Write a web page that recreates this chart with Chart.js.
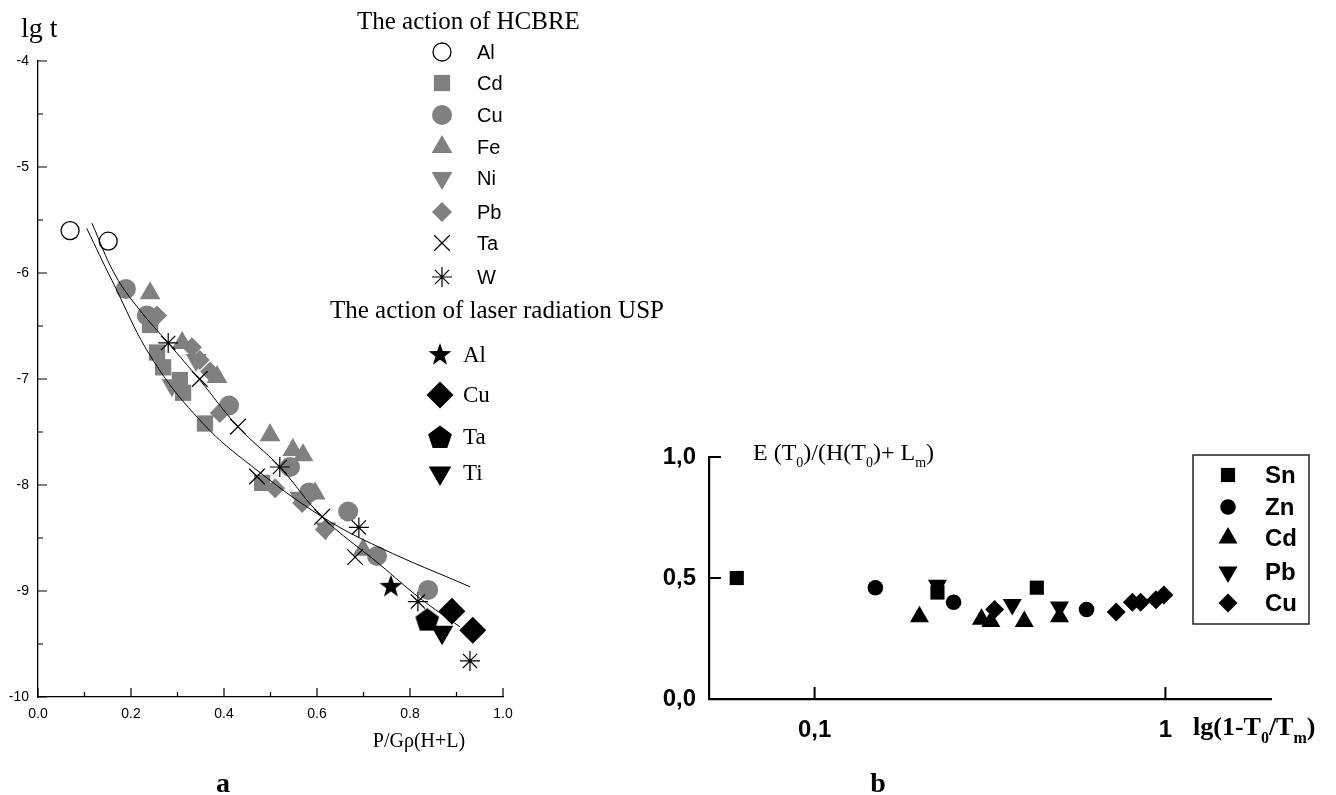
<!DOCTYPE html>
<html lang="en">
<head>
<meta charset="UTF-8" />
<title>lg t and E(T0)/(H(T0)+Lm)</title>
<script src="https://cdn.jsdelivr.net/npm/chart.js"></script>
<style>
  body { margin: 0; background: #fff; }
  #chart-a, #chart-b { position: absolute; top: 0; }
  #chart-a { left: 0; }
  #chart-b { left: 620px; }
</style>
</head>
<body>
<canvas id="chart-a" width="700" height="795"></canvas>
<canvas id="chart-b" width="716" height="795"></canvas>
<script>
  // ---- panel a : x = P/Gρ(H+L), y = lg t ----
  const hcAl = [[0.069,-5.60],[0.151,-5.70]];
  const hcCd = [[0.241,-6.49],[0.256,-6.75],[0.269,-6.89],[0.305,-7.01],[0.312,-7.13],[0.359,-7.42],[0.482,-7.98]];
  const hcCu = [[0.189,-6.15],[0.234,-6.40],[0.411,-7.25],[0.542,-7.83],[0.583,-8.07],[0.667,-8.25],[0.729,-8.67],[0.839,-8.99]];
  const hcFe = [[0.241,-6.19],[0.310,-6.66],[0.385,-6.98],[0.499,-7.53],[0.548,-7.67],[0.570,-7.72],[0.596,-8.08],[0.699,-8.61]];
  const hcNi = [[0.288,-7.06],[0.340,-6.82],[0.563,-8.12],[0.619,-8.41]];
  const hcPb = [[0.256,-6.40],[0.331,-6.70],[0.348,-6.82],[0.370,-6.93],[0.391,-7.32],[0.510,-8.03],[0.568,-8.17],[0.617,-8.42]];
  const hcTa = [[0.348,-7.00],[0.430,-7.45],[0.471,-7.92],[0.611,-8.30],[0.682,-8.68]];
  const hcW  = [[0.280,-6.66],[0.520,-7.83],[0.690,-8.40],[0.817,-9.10],[0.929,-9.66]];
  const usAl = [[0.759,-8.96]];
  const usCu = [[0.890,-9.19],[0.935,-9.37]];
  const usTa = [[0.837,-9.27]];
  const usTi = [[0.869,-9.39]];
  // the two fitted curves
  const fitA = [[0.105,-5.58],[0.159,-6.07],[0.247,-6.82],[0.355,-7.42],[0.462,-7.83],[0.611,-8.30],[0.735,-8.59],[0.929,-8.96]];
  const fitB = [[0.116,-5.53],[0.166,-6.02],[0.219,-6.35],[0.280,-6.66],[0.348,-7.01],[0.430,-7.45],[0.520,-7.83],[0.611,-8.30],[0.735,-8.75],[0.822,-9.07],[0.908,-9.34]];

  const aXTicks  = [0, 0.1, 0.2, 0.3, 0.4, 0.5, 0.6, 0.7, 0.8, 0.9, 1.0];
  const aXLabels = ['0.0', '', '0.2', '', '0.4', '', '0.6', '', '0.8', '', '1.0'];
  const aYTicks  = [-4, -4.5, -5, -5.5, -6, -6.5, -7, -7.5, -8, -8.5, -9, -9.5, -10];
  const aYLabels = ['-4', '', '-5', '', '-6', '', '-7', '', '-8', '', '-9', '', '-10'];

  // ---- panel b : x = lg(1-T0/Tm), y = E(T0)/(H(T0)+Lm) ----
  const bSn = [[0.060,0.50],[0.224,0.44],[0.430,0.46]];
  const bZn = [[0.149,0.46],[0.249,0.40],[0.596,0.37]];
  const bCd = [[0.199,0.34],[0.299,0.33],[0.318,0.32],[0.396,0.32],[0.499,0.34]];
  const bPb = [[0.224,0.47],[0.366,0.39],[0.499,0.38]];
  const bCu = [[0.326,0.37],[0.724,0.36],[0.805,0.40],[0.850,0.40],[0.940,0.41],[0.990,0.43]];

  const bXTicks  = [0.1, 1];
  const bXLabels = ['0,1', '1'];
  const bYTicks  = [0, 0.5, 1];
  const bYLabels = ['0,0', '0,5', '1,0'];

  const GREY = '#808080';
  const SANS = '"Liberation Sans", Arial, sans-serif';
  const SERIF = '"Liberation Serif", "Times New Roman", serif';

  // filled glyphs that Chart.js has no built-in point style for
  function glyph(size, path) {
    const c = document.createElement('canvas');
    c.width = size; c.height = size;
    const g = c.getContext('2d');
    g.fillStyle = '#000';
    g.translate(size / 2, size / 2);
    g.beginPath(); path(g); g.closePath(); g.fill();
    return c;
  }
  const starGlyph = glyph(26, g => {
    for (let i = 0; i < 10; i++) {
      const r = i % 2 ? 4.8 : 12, a = -Math.PI / 2 + i * Math.PI / 5;
      g.lineTo(r * Math.cos(a), r * Math.sin(a));
    }
  });
  const pentGlyph = glyph(28, g => {
    for (let i = 0; i < 5; i++) {
      const a = -Math.PI / 2 + i * 2 * Math.PI / 5;
      g.lineTo(12.5 * Math.cos(a), 1 + 12.5 * Math.sin(a));
    }
  });

  const hcStyles = [
    { label: 'Al', data: hcAl, pointStyle: 'circle',   radius: 9,    fill: '#fff', stroke: '#000', bw: 1.3 },
    { label: 'Cd', data: hcCd, pointStyle: 'rect',     radius: 11.5, fill: GREY, stroke: GREY, bw: 0 },
    { label: 'Cu', data: hcCu, pointStyle: 'circle',   radius: 10,   fill: GREY, stroke: GREY, bw: 0 },
    { label: 'Fe', data: hcFe, pointStyle: 'triangle', radius: 12,   fill: GREY, stroke: GREY, bw: 0 },
    { label: 'Ni', data: hcNi, pointStyle: 'triangle', radius: 12,   fill: GREY, stroke: GREY, bw: 0, rotation: 180 },
    { label: 'Pb', data: hcPb, pointStyle: 'rectRot',  radius: 10,   fill: GREY, stroke: GREY, bw: 0 },
    { label: 'Ta', data: hcTa, pointStyle: 'crossRot', radius: 11,   fill: '#000', stroke: '#000', bw: 1.2 },
    { label: 'W',  data: hcW,  pointStyle: 'star',     radius: 10,   fill: '#000', stroke: '#000', bw: 1.2 }
  ];
  const usStyles = [
    { label: 'Al', data: usAl, pointStyle: starGlyph, radius: 12,   fill: '#000', stroke: '#000', bw: 0 },
    { label: 'Cu', data: usCu, pointStyle: 'rectRot', radius: 13.5, fill: '#000', stroke: '#000', bw: 0 },
    { label: 'Ta', data: usTa, pointStyle: pentGlyph, radius: 12,   fill: '#000', stroke: '#000', bw: 0 },
    { label: 'Ti', data: usTi, pointStyle: 'triangle', radius: 13,  fill: '#000', stroke: '#000', bw: 0, rotation: 180 }
  ];
  const bStyles = [
    { label: 'Sn', data: bSn, pointStyle: 'rect',     radius: 10,  fill: '#000', stroke: '#000', bw: 0 },
    { label: 'Zn', data: bZn, pointStyle: 'circle',   radius: 7.8, fill: '#000', stroke: '#000', bw: 0 },
    { label: 'Cd', data: bCd, pointStyle: 'triangle', radius: 11,  fill: '#000', stroke: '#000', bw: 0 },
    { label: 'Pb', data: bPb, pointStyle: 'triangle', radius: 11,  fill: '#000', stroke: '#000', bw: 0, rotation: 180 },
    { label: 'Cu', data: bCu, pointStyle: 'rectRot',  radius: 9.5, fill: '#000', stroke: '#000', bw: 0 }
  ];

  function pointSet(s) {
    return {
      label: s.label, data: s.data, clip: false,
      pointStyle: s.pointStyle, pointRadius: s.radius, pointHoverRadius: s.radius,
      pointRotation: s.rotation || 0,
      pointBackgroundColor: s.fill, pointBorderColor: s.stroke, pointBorderWidth: s.bw
    };
  }
  function curveSet(name, data) {
    return { label: name, data: data, showLine: true, pointRadius: 0, borderColor: '#000',
             borderWidth: 1, tension: 0.4, fill: false };
  }

  function marker(ctx, s, x, y) {
    ctx.save();
    ctx.fillStyle = s.fill; ctx.strokeStyle = s.stroke;
    ctx.lineWidth = s.bw;
    Chart.helpers.drawPoint(ctx, { pointStyle: s.pointStyle, radius: s.radius, rotation: s.rotation || 0, borderWidth: s.bw }, x, y);
    ctx.restore();
  }
  // text with subscripts: parts = [text, font, dy]
  function richText(ctx, parts, x, y, align) {
    let w = 0;
    parts.forEach(p => { ctx.font = p[1]; w += ctx.measureText(p[0]).width; });
    let cx = align === 'center' ? x - w / 2 : x;
    ctx.textAlign = 'left';
    parts.forEach(p => { ctx.font = p[1]; ctx.fillText(p[0], cx, y + (p[2] || 0)); cx += ctx.measureText(p[0]).width; });
  }

  // inward tick marks, major ones where a label is shown
  const tickMarks = {
    id: 'tickMarks',
    afterDraw(chart, args, o) {
      const { ctx, chartArea: a } = chart;
      const xs = chart.scales.x, ys = chart.scales.y;
      ctx.save();
      ctx.strokeStyle = '#000';
      ctx.lineWidth = o.width;
      ctx.beginPath();
      xs.ticks.forEach(t => {
        const len = t.label === '' ? o.minor : o.major;
        const px = xs.getPixelForValue(t.value);
        ctx.moveTo(px, a.bottom); ctx.lineTo(px, a.bottom - len);
      });
      ys.ticks.forEach(t => {
        const len = t.label === '' ? o.minor : o.major;
        const py = ys.getPixelForValue(t.value);
        ctx.moveTo(a.left, py); ctx.lineTo(a.left + len, py);
      });
      ctx.stroke();
      ctx.restore();
    }
  };

  const annotateA = {
    id: 'annotateA',
    afterDraw(chart) {
      const ctx = chart.ctx;
      ctx.save();
      ctx.fillStyle = '#000';
      ctx.textBaseline = 'alphabetic';
      richText(ctx, [['lg t', '28px ' + SERIF]], 21, 37, 'left');
      richText(ctx, [['P/G\u03c1(H+L)', '20px ' + SERIF]], 419, 747, 'center');
      richText(ctx, [['a', 'bold 28px ' + SERIF]], 223, 792, 'center');
      richText(ctx, [['The action of HCBRE', '25px ' + SERIF]], 357, 29, 'left');
      richText(ctx, [['The action of laser radiation USP', '25px ' + SERIF]], 330, 318, 'left');
      const rowsA = [52, 83, 115, 147, 178, 212, 243, 277];
      hcStyles.forEach((s, i) => {
        marker(ctx, s, 442, rowsA[i]);
        ctx.fillStyle = '#000'; ctx.font = '20px ' + SANS; ctx.textBaseline = 'middle'; ctx.textAlign = 'left';
        ctx.fillText(s.label, 477, rowsA[i] + 1);
      });
      const rowsU = [355, 395, 437, 473];
      usStyles.forEach((s, i) => {
        marker(ctx, s, 440, rowsU[i]);
        ctx.fillStyle = '#000'; ctx.font = '23px ' + SERIF; ctx.textBaseline = 'middle'; ctx.textAlign = 'left';
        ctx.fillText(s.label, 463, rowsU[i] + 1);
      });
      ctx.restore();
    }
  };

  const annotateB = {
    id: 'annotateB',
    afterDraw(chart) {
      const ctx = chart.ctx;
      ctx.save();
      ctx.fillStyle = '#000';
      ctx.textBaseline = 'alphabetic';
      const r = '24px ' + SERIF, s = '14px ' + SERIF;
      richText(ctx, [['E (T', r], ['0', s, 7], [')/(H(T', r], ['0', s, 7], [')+ L', r], ['m', s, 7], [')', r]], 133, 460, 'left');
      const rb = 'bold 26px ' + SERIF, sb = 'bold 16px ' + SERIF;
      richText(ctx, [['lg(1-T', rb], ['0', sb, 8], ['/T', rb], ['m', sb, 8], [')', rb]], 573, 735, 'left');
      richText(ctx, [['b', 'bold 28px ' + SERIF]], 258, 792, 'center');
      ctx.strokeStyle = '#222'; ctx.lineWidth = 1.5;
      ctx.strokeRect(573, 455, 116, 169);
      const rows = [475, 507, 538, 572, 603];
      bStyles.forEach((st, i) => {
        marker(ctx, st, 608, rows[i]);
        ctx.fillStyle = '#000'; ctx.font = 'bold 24px ' + SANS; ctx.textBaseline = 'middle'; ctx.textAlign = 'left';
        ctx.fillText(st.label, 645, rows[i] + 1);
      });
      ctx.restore();
    }
  };

  function fixedTicks(values) {
    return s => { s.ticks = values.map(v => ({ value: v })); };
  }

  // axis boxes get a fixed size so the plot area lands where the figure has it
  new Chart(document.getElementById('chart-a'), {
    type: 'scatter',
    data: {
      datasets: [curveSet('fit A', fitA), curveSet('fit B', fitB)]
        .concat(usStyles.map(pointSet))
        .concat(hcStyles.slice().reverse().map(pointSet))
    },
    options: {
      responsive: false,
      animation: false,
      events: [],
      layout: { padding: { left: 0, top: 61, right: 197, bottom: 0 } },
      plugins: {
        legend: { display: false },
        tooltip: { enabled: false },
        tickMarks: { width: 1.2, major: 9, minor: 5 }
      },
      scales: {
        x: {
          type: 'linear', min: 0, max: 1,
          afterBuildTicks: fixedTicks(aXTicks),
          afterFit: s => { s.height = 98; },
          grid: { display: false, drawTicks: false },
          border: { display: true, color: '#000', width: 1.3 },
          ticks: { autoSkip: false, maxRotation: 0, padding: 9, color: '#000',
                   font: { family: SANS, size: 14 },
                   callback: (v, i) => aXLabels[i] }
        },
        y: {
          type: 'linear', min: -10, max: -4,
          afterBuildTicks: fixedTicks(aYTicks),
          afterFit: s => { s.width = 38; },
          grid: { display: false, drawTicks: false },
          border: { display: true, color: '#000', width: 1.3 },
          ticks: { autoSkip: false, padding: 9, color: '#000',
                   font: { family: SANS, size: 14 },
                   callback: (v, i) => aYLabels[i] }
        }
      }
    },
    plugins: [tickMarks, annotateA]
  });

  new Chart(document.getElementById('chart-b'), {
    type: 'scatter',
    data: { datasets: bStyles.map(pointSet) },
    options: {
      responsive: false,
      animation: false,
      events: [],
      layout: { padding: { left: 0, top: 457, right: 65, bottom: 0 } },
      plugins: {
        legend: { display: false },
        tooltip: { enabled: false },
        tickMarks: { width: 2, major: 12, minor: 12 }
      },
      scales: {
        x: {
          type: 'logarithmic', min: 0.05, max: 2,
          afterBuildTicks: fixedTicks(bXTicks),
          afterFit: s => { s.height = 96; },
          grid: { display: false, drawTicks: false },
          border: { display: true, color: '#000', width: 2.2 },
          ticks: { autoSkip: false, maxRotation: 0, padding: 17, color: '#000',
                   font: { family: SANS, size: 24, weight: 'bold' },
                   callback: (v, i) => bXLabels[i] }
        },
        y: {
          type: 'linear', min: 0, max: 1,
          afterBuildTicks: fixedTicks(bYTicks),
          afterFit: s => { s.width = 89; },
          grid: { display: false, drawTicks: false },
          border: { display: true, color: '#000', width: 2.2 },
          ticks: { autoSkip: false, padding: 13, color: '#000',
                   font: { family: SANS, size: 24, weight: 'bold' },
                   callback: (v, i) => bYLabels[i] }
        }
      }
    },
    plugins: [tickMarks, annotateB]
  });
</script>
</body>
</html>
